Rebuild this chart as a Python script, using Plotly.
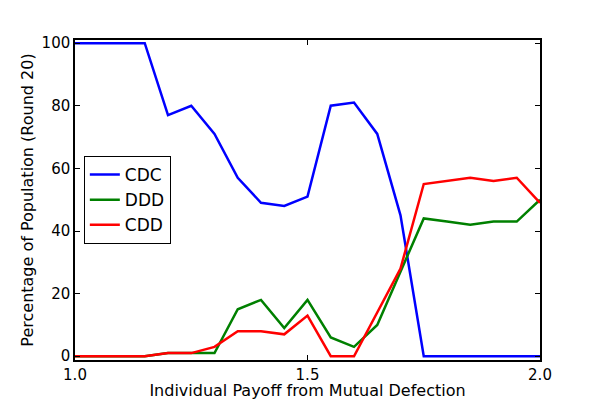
import plotly.graph_objects as go

x = [1.0, 1.05, 1.1, 1.15, 1.2, 1.25, 1.3, 1.35, 1.4, 1.45, 1.5,
     1.55, 1.6, 1.65, 1.7, 1.75, 1.8, 1.85, 1.9, 1.95, 2.0]
cdc = [100, 100, 100, 100, 77, 80, 71, 57, 49, 48, 51, 80, 81, 71, 45, 0, 0, 0, 0, 0, 0]
ddd = [0, 0, 0, 0, 1, 1, 1, 15, 18, 9, 18, 6, 3, 10, 27, 44, 43, 42, 43, 43, 50]
cdd = [0, 0, 0, 0, 1, 1, 3, 8, 8, 7, 13, 0, 0, 14, 28, 55, 56, 57, 56, 57, 49]

fig = go.Figure()
for name, y, c in [("CDC", cdc, "#0000ff"), ("DDD", ddd, "#008000"), ("CDD", cdd, "#ff0000")]:
    fig.add_trace(go.Scatter(x=x, y=y, mode="lines", name=name,
                             line=dict(color=c, width=2.5)))

font = dict(family="DejaVu Sans", size=15, color="black")
fig.update_layout(
    width=592, height=392,
    margin=dict(l=67, r=60, t=32, b=40),
    plot_bgcolor="white", paper_bgcolor="white",
    font=font,
    showlegend=True,
    legend=dict(x=0.019, y=0.5, xanchor="left", yanchor="middle",
                bgcolor="white", bordercolor="black", borderwidth=1,
                font=dict(family="DejaVu Sans", size=17), tracegroupgap=0),
    xaxis=dict(range=[1.0, 2.0], tickvals=[1.0, 1.5, 2.0], ticktext=["1.0", "1.5", "2.0"],
               ticks="inside", ticklen=5, tickcolor="black", mirror="ticks", automargin=False,
               showline=True, linecolor="black", linewidth=1.5, showgrid=False, zeroline=False,
               title=dict(text="Individual Payoff from Mutual Defection", font=dict(size=16), standoff=6)),
    yaxis=dict(range=[-1.2, 101], tickvals=[0, 20, 40, 60, 80, 100],
               ticks="inside", ticklen=5, tickcolor="black", mirror="ticks", automargin=False,
               showline=True, linecolor="black", linewidth=1.5, showgrid=False, zeroline=False,
               title=dict(text="Percentage of Population (Round 20)", font=dict(size=16), standoff=4)),
)
fig.write_html("out.html")
